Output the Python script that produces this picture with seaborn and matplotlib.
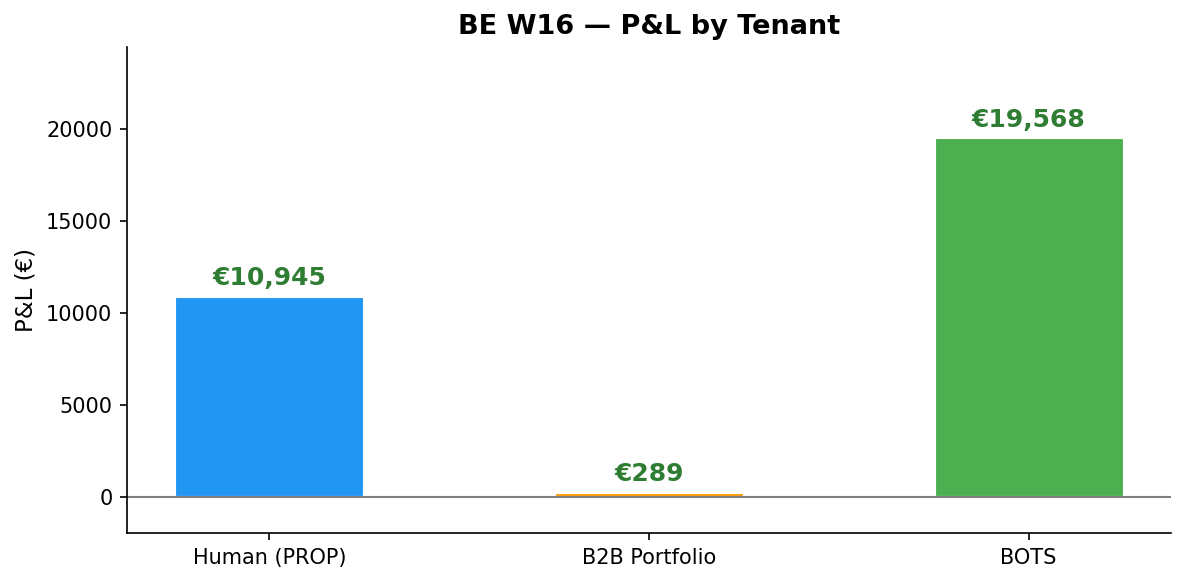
import matplotlib
matplotlib.use("Agg")
import matplotlib.pyplot as plt
import seaborn as sns
import pandas as pd

tenants = ["Human (PROP)", "B2B Portfolio", "BOTS"]
pnl = [10945, 289, 19568]
colors = ["#2196F3", "#FF9800", "#4CAF50"]

sns.set_style("ticks", {"axes.edgecolor": "black", "text.color": "black",
                        "axes.labelcolor": "black", "xtick.color": "black",
                        "ytick.color": "black"})
plt.rcParams['font.family'] = ['DejaVu Sans']

df = pd.DataFrame({"tenant": tenants, "pnl": pnl})

fig = plt.figure(figsize=(1185/150, 583/150), dpi=150)
ax = fig.add_axes([127/1185, 1-533/583, (1171-127)/1185, (533-47)/583])
sns.barplot(data=df, x="tenant", y="pnl", hue="tenant", palette=colors,
            width=0.5, legend=False, ax=ax, saturation=1,
            edgecolor="white", linewidth=1.5)
ax.axhline(0, color="gray", linewidth=1)
mx = max(pnl)
ax.set_xlim(-0.375, len(tenants) - 1 + 0.375)
ax.set_ylim(-0.1 * mx, 1.25 * mx)
for i, v in enumerate(pnl):
    ax.annotate(f"€{v:,}", (i, v), xytext=(0, 2.5), textcoords="offset points",
                ha="center", va="bottom", fontsize=12, fontweight="bold",
                color="#2E7D32")
ax.set_title("BE W16 — P&L by Tenant", fontsize=13, fontweight="bold", color="black")
ax.set_xlabel("")
ax.set_ylabel("P&L (€)", fontsize=11)
ax.tick_params(labelsize=10)
sns.despine(ax=ax)
fig.savefig("out.png", dpi=150)
